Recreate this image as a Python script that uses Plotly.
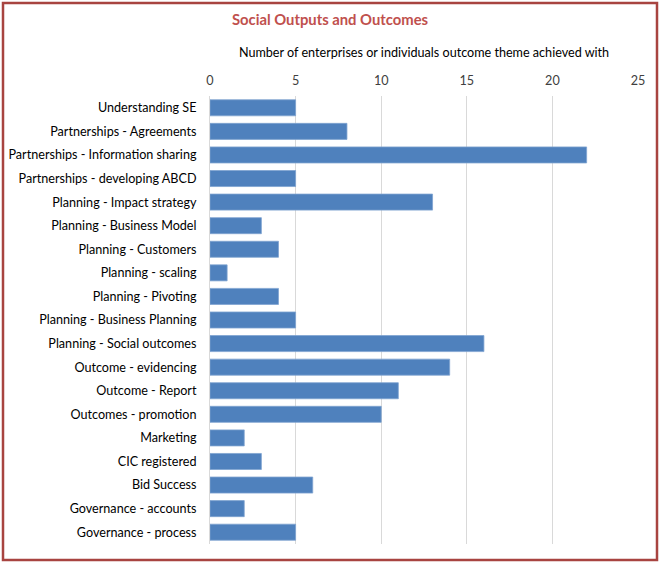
import plotly.graph_objects as go

# Outcome themes (top to bottom as shown)
themes = [
    "Understanding SE",
    "Partnerships - Agreements",
    "Partnerships - Information sharing",
    "Partnerships - developing ABCD",
    "Planning - Impact strategy",
    "Planning - Business Model",
    "Planning - Customers",
    "Planning - scaling",
    "Planning - Pivoting",
    "Planning - Business Planning",
    "Planning - Social outcomes",
    "Outcome - evidencing",
    "Outcome - Report",
    "Outcomes - promotion",
    "Marketing",
    "CIC registered",
    "Bid Success",
    "Governance - accounts",
    "Governance - process",
]
counts = [5, 8, 22, 5, 13, 3, 4, 1, 4, 5, 16, 14, 11, 10, 2, 3, 6, 2, 5]
x_ticks = [0, 5, 10, 15, 20, 25]

W, H = 660, 563
L, R, T, B = 210, 22, 96, 19
pw, ph = W - L - R, H - T - B


def px_x(p):
    return (p - L) / pw


def px_y(p):
    return (H - B - p) / ph


fig = go.Figure()

fig.add_trace(go.Bar(
    x=counts, y=themes, orientation="h",
    marker=dict(color="#4F81BD", line=dict(color="#7FA3D1", width=0.8)),
))

# Outer frame round the whole chart
fig.add_shape(
    type="rect", xref="paper", yref="paper",
    x0=px_x(3), x1=px_x(657), y0=px_y(560), y1=px_y(3),
    line=dict(color="#A84440", width=2.5), fillcolor="rgba(0,0,0,0)",
    layer="above",
)

fig.update_layout(
    width=W, height=H,
    margin=dict(l=L, r=R, t=T, b=B, autoexpand=False),
    paper_bgcolor="white", plot_bgcolor="white",
    font=dict(family="Lato, Open Sans, sans-serif", size=12.6, color="#000000"),
    title=dict(
        text="<b>Social Outputs and Outcomes</b>",
        x=0.5, xanchor="center", y=1 - 20 / H, yanchor="middle",
        font=dict(size=14.8, color="#C0504D"),
    ),
    bargap=0.32,
    showlegend=False,
)

fig.update_xaxes(
    side="top", range=[0, 25], tickvals=x_ticks, automargin=False,
    showgrid=True, gridcolor="#D9D9D9", gridwidth=1,
    zeroline=False, showline=False, ticks="",
    ticklabelstandoff=7,
    tickfont=dict(size=12.6, color="#404040"),
    title=dict(text="Number of enterprises or individuals outcome theme achieved with",
               font=dict(size=12.6, color="#000000"), standoff=13),
)

fig.update_yaxes(
    autorange="reversed", showgrid=False, zeroline=False, automargin=False,
    showline=True, linecolor="#D9D9D9", ticks="",
    ticklabelstandoff=10,
    tickfont=dict(size=12.6, color="#000000"),
)

# drop the browser's default page margin so the chart sits at the top-left
fig.write_html("out.html", config={"displayModeBar": False},
               post_script="document.body.style.margin='0';")
